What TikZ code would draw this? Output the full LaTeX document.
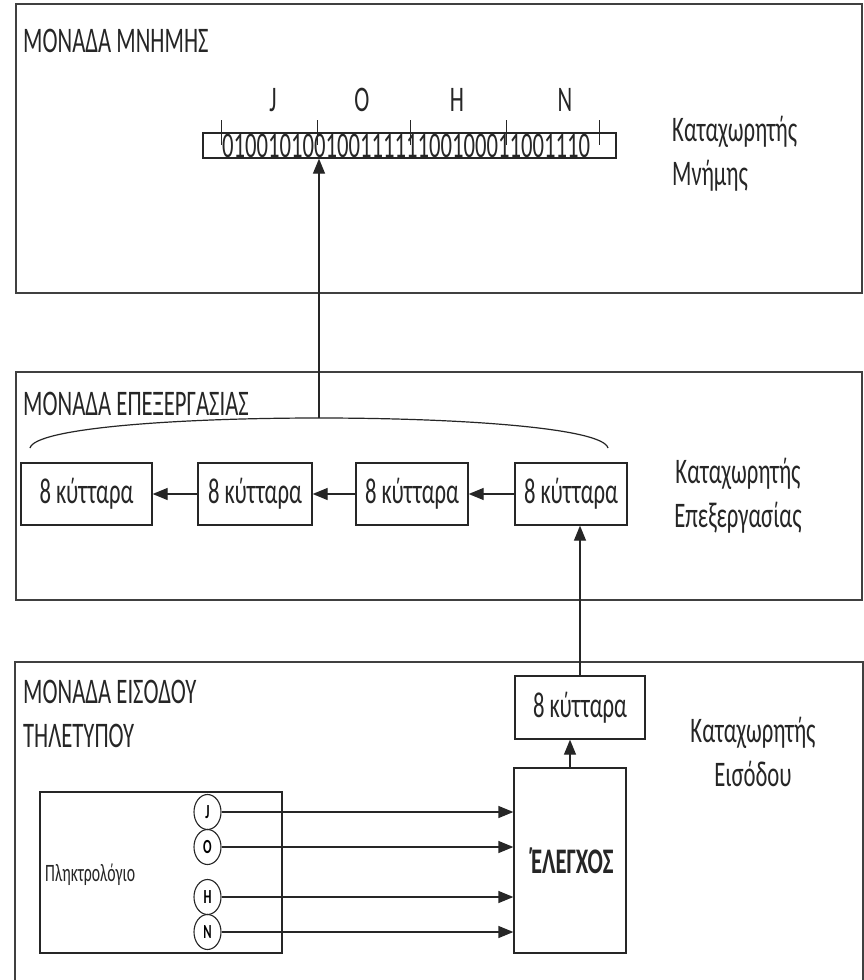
\documentclass[tikz,border=0pt]{standalone}
\usepackage{fontspec}
\setmainfont{Carlito}[FakeStretch=0.63]
\usetikzlibrary{arrows.meta,shapes.geometric}
\newcommand\labfont{\fontsize{36}{44}\selectfont}
\newcommand\smallfont{\fontsize{25}{30}\selectfont}
\newcommand\keyfont{\fontsize{20}{22}\selectfont\bfseries}
\begin{document}
\begin{tikzpicture}[x=1pt,y=-1pt,
  frame/.style={draw=black!75, line width=1.5pt},
  cell/.style={draw=black!85, line width=1.3pt, inner sep=0pt, font=\labfont, text=black!85},
  lab/.style={inner sep=0pt, font=\labfont, text=black!85},
  key/.style={draw=black!85, line width=1.1pt, ellipse, inner sep=0pt, minimum width=27pt, minimum height=35pt, font=\keyfont},
  arr/.style={-{Triangle[length=15pt,width=12pt]}, line width=1.3pt, draw=black!85},
  wire/.style={line width=1.2pt, draw=black!85}]
\useasboundingbox (0,0) rectangle (864,980);
\fill[white] (0,0) rectangle (864,980);

% ---------- memory unit ----------
\draw[frame] (16,4) rectangle (862,293);
\node[lab, anchor=base west] (memtitle) at (23,52) {ΜΟΝΑΔΑ ΜΝΗΜΗΣ};
\node[lab, anchor=base] (lJ) at (273,111) {J};
\node[lab, anchor=base] (lO) at (362,111) {O};
\node[lab, anchor=base] (lH) at (457,111) {H};
\node[lab, anchor=base] (lN) at (565,111) {N};
\node[draw=black!85, line width=1.3pt, inner sep=0pt, minimum width=413pt, minimum height=25pt] (memreg) at (409.5,145.5) {};
\foreach \t in {221,317,410,506,599}{\draw[wire, line width=1pt] (\t,120) -- (\t,145);}
\node[lab, anchor=base west] (bits) at (222,157) {01001010010011111100100011001110};
\node[lab, anchor=west, align=left] (memlab) at (672,154) {Καταχωρητής\\Μνήμης};

% ---------- processing unit ----------
\draw[frame] (16,372) rectangle (862,600);
\node[lab, anchor=base west] (proctitle) at (23,415) {ΜΟΝΑΔΑ ΕΠΕΞΕΡΓΑΣΙΑΣ};
\draw[wire] (30,448) .. controls (40,408) and (598,408) .. (608,448);
\coordinate (bt) at (319,418);
\draw[arr] (bt) -- (bt |- memreg.south);
\node[cell, minimum width=131pt, minimum height=62pt] (b1) at (86.5,494) {8 κύτταρα};
\node[cell, minimum width=114pt, minimum height=62pt] (b2) at (255,494) {8 κύτταρα};
\node[cell, minimum width=112pt, minimum height=62pt] (b3) at (412,494) {8 κύτταρα};
\node[cell, minimum width=112pt, minimum height=62pt] (b4) at (571,494) {8 κύτταρα};
\draw[arr] (b2.west) -- (b1.east);
\draw[arr] (b3.west) -- (b2.east);
\draw[arr] (b4.west) -- (b3.east);
\node[lab, align=center] (proclab) at (738,496) {Καταχωρητής\\Επεξεργασίας};

% ---------- input unit ----------
\draw[frame] (15,990) -- (15,662) -- (863,662) -- (863,990);
\node[lab, anchor=west, align=left] (intitle) at (23,714) {ΜΟΝΑΔΑ ΕΙΣΟΔΟΥ\\ΤΗΛΕΤΥΠΟΥ};
\node[cell, minimum width=130pt, minimum height=63pt] (inreg) at (580,707.5) {8 κύτταρα};
\node[cell, minimum width=112pt, minimum height=185pt, font=\labfont\bfseries] (ctrl) at (570,860.5) {΄\kern-2.5ptΕΛΕΓΧΟΣ};
\draw[arr] (inreg.north) -- (inreg.north |- b4.south);
\coordinate (cx) at (570,0);
\draw[arr] (cx |- ctrl.north) -- (cx |- inreg.south);
\node[lab, align=center] (inlab) at (753,752) {Καταχωρητής\\Εισόδου};

\node[draw=black!85, line width=1.3pt, inner sep=0pt, minimum width=242pt, minimum height=161pt] (kbd) at (161,872.5) {};
\node[inner sep=0pt, font=\smallfont, text=black!85, anchor=base west] (kbdlab) at (45,881) {Πληκτρολόγιο};
\node[key] (kJ) at (207.5,812) {J};
\node[key] (kO) at (207.5,847) {O};
\node[key] (kH) at (207.5,897) {H};
\node[key] (kN) at (207.5,932) {N};
\foreach \k in {kJ,kO,kH,kN}{\draw[arr] (\k.east) -- (\k.east -| ctrl.west);}
\end{tikzpicture}
\end{document}
